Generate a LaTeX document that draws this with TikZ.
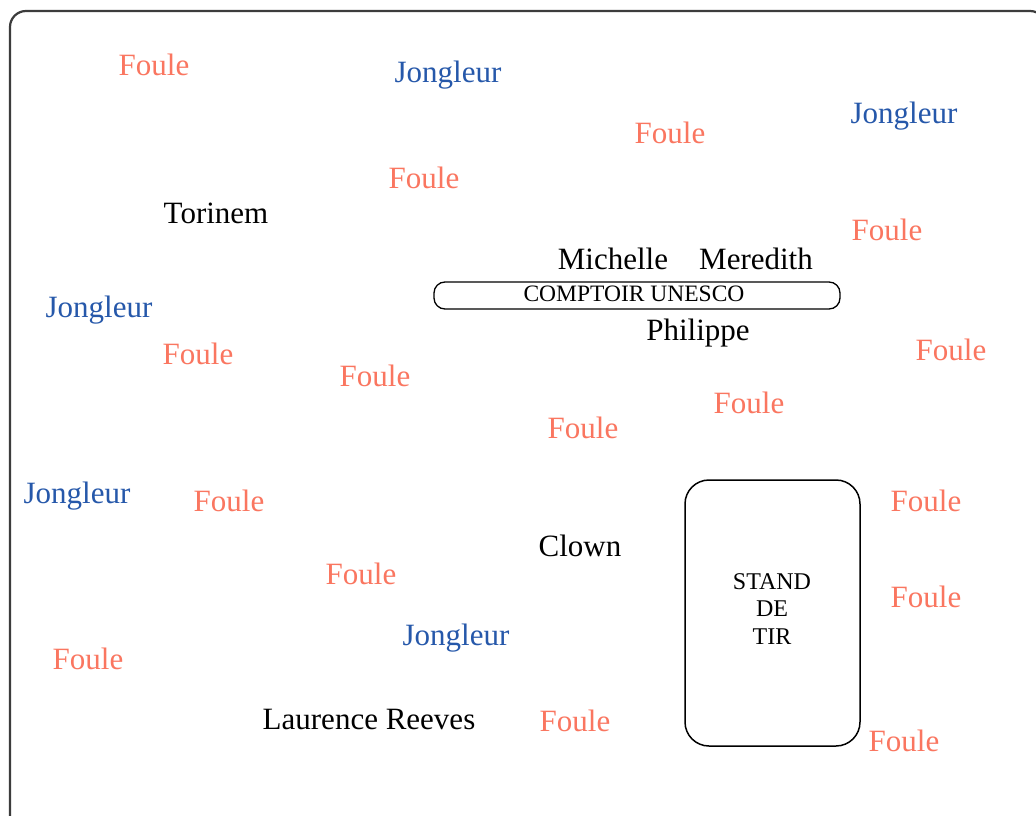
\documentclass[tikz,border=0pt]{standalone}
\usepackage{fontspec}
\setmainfont{Liberation Serif}
\definecolor{foulecol}{RGB}{250,118,96}
\definecolor{jongcol}{RGB}{38,88,170}
\definecolor{framecol}{RGB}{60,60,60}
\tikzset{
  lbl/.style={inner sep=0pt, font=\fontsize{31}{36}\selectfont},
  foule/.style={lbl, text=foulecol},
  jong/.style={lbl, text=jongcol},
  person/.style={lbl, text=black},
  boxtxt/.style={inner sep=0pt, font=\fontsize{23.5}{28}\selectfont, text=black},
}
\begin{document}
\begin{tikzpicture}[x=1pt,y=-1pt]
\useasboundingbox (0,0) rectangle (1036,816);
\fill[white] (0,0) rectangle (1036,816);
\clip (0,0) rectangle (1036,816);
\draw[framecol, line width=2.2pt, rounded corners=16pt] (10,840) -- (10,11) -- (1046,11) -- (1046,840);

% Foule
\node[foule] (f1) at (154,65) {Foule};
\node[foule] (f2) at (424,178) {Foule};
\node[foule] (f3) at (670,133) {Foule};
\node[foule] (f4) at (887,230) {Foule};
\node[foule] (f5) at (198,354) {Foule};
\node[foule] (f6) at (375,376) {Foule};
\node[foule] (f7) at (951,350) {Foule};
\node[foule] (f8) at (749,403) {Foule};
\node[foule] (f9) at (583,428) {Foule};
\node[foule] (f10) at (229,501) {Foule};
\node[foule] (f11) at (926,501) {Foule};
\node[foule] (f12) at (361,574) {Foule};
\node[foule] (f13) at (926,597) {Foule};
\node[foule] (f14) at (88,659) {Foule};
\node[foule] (f15) at (575,721) {Foule};
\node[foule] (f16) at (904,741) {Foule};

% Jongleurs
\node[jong] (j1) at (448,75) {Jongleur};
\node[jong] (j2) at (904,116) {Jongleur};
\node[jong] (j3) at (99,310) {Jongleur};
\node[jong] (j4) at (77,496) {Jongleur};
\node[jong] (j5) at (456,638) {Jongleur};

% People
\node[person] (torinem) at (216,213) {Torinem};
\node[person] (michelle) at (613,259) {Michelle};
\node[person] (meredith) at (756,259) {Meredith};
\node[person] (philippe) at (698,333) {Philippe};
\node[person] (clown) at (580,546) {Clown};
\node[person] (laurence) at (369,719) {Laurence Reeves};

% Comptoir
\draw[black, line width=1.3pt, rounded corners=11pt] (434,282) rectangle (840,309);
\node[boxtxt] (comptoir) at (634,294) {COMPTOIR UNESCO};

% Stand de tir
\draw[black, line width=1.5pt, rounded corners=24pt] (685,480) rectangle (860,746);
\node[boxtxt, align=center, font=\fontsize{24}{27.5}\selectfont] (stand) at (772,609) {STAND\\DE\\TIR};
\end{tikzpicture}
\end{document}
